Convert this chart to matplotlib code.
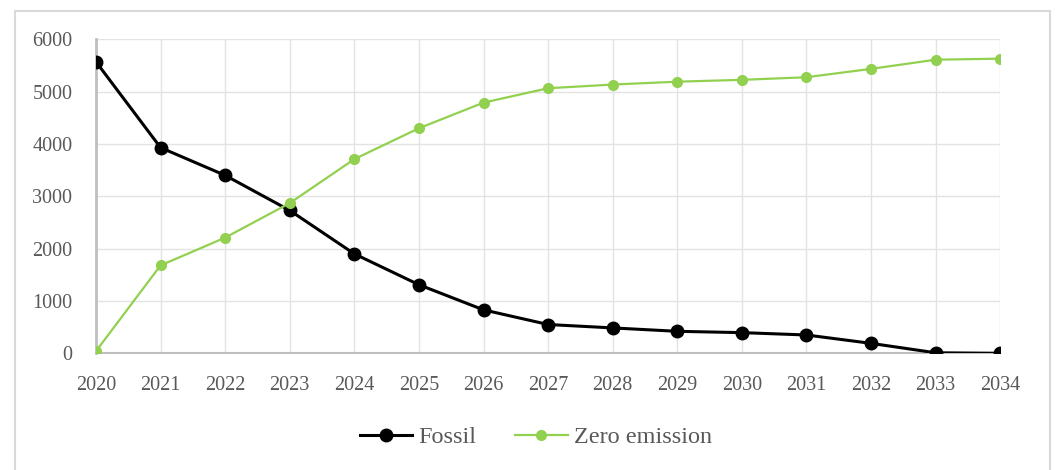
# Fossil vs zero emission line chart, Excel style
import matplotlib.pyplot as plt
import matplotlib.patches as patches

years = [2020, 2021, 2022, 2023, 2024, 2025, 2026, 2027, 2028, 2029, 2030, 2031, 2032, 2033, 2034]
fossil = [5570, 3930, 3400, 2730, 1900, 1310, 830, 550, 485, 420, 395, 350, 190, 10, 0]
zero_emission = [40, 1680, 2210, 2870, 3710, 4300, 4790, 5065, 5135, 5190, 5225, 5275, 5435, 5610, 5630]
yticks = [0, 1000, 2000, 3000, 4000, 5000, 6000]

plt.rcParams['font.family'] = ['Liberation Serif', 'DejaVu Serif']

fig = plt.figure(figsize=(10.57, 4.70), dpi=100)
ax = fig.add_axes([0.0908, 0.2483, 0.8555, 0.6681])

# Chart frame
fig.patches.append(patches.Rectangle((15/1057, -0.1), 1035/1057, 1.1 - 11/470,
                                     transform=fig.transFigure, fill=False,
                                     edgecolor='#d9d9d9', linewidth=1.5))

ax.plot(years, fossil, color='black', lw=2.2, marker='o', ms=9, label='Fossil', zorder=3)
ax.plot(years, zero_emission, color='#92D050', lw=1.6, marker='o', ms=7, label='Zero emission', zorder=4)

ax.set_xlim(2020, 2034)
ax.set_ylim(0, 6000)
ax.set_xticks(years)
ax.set_yticks(yticks)
ax.grid(True, color='#e3e3e3', linewidth=1)
ax.set_axisbelow(True)
for s in ['top', 'right']:
    ax.spines[s].set_visible(False)
ax.spines['left'].set_color('#bfbfbf')
ax.spines['left'].set_linewidth(2)
ax.spines['bottom'].set_color('#bfbfbf')
ax.spines['bottom'].set_linewidth(1.5)
ax.tick_params(length=0, labelsize=14.5, labelcolor='#595959')
ax.tick_params(axis='y', pad=17)
ax.tick_params(axis='x', pad=16)
for lab in ax.get_xticklabels() + ax.get_yticklabels():
    lab.set_clip_on(False)

leg = fig.legend(loc='center', bbox_to_anchor=(0.507, 0.07), ncol=2, frameon=False,
                 fontsize=17.5, handlelength=2.15, columnspacing=1.6, handletextpad=0.25)
for t in leg.get_texts():
    t.set_color('#595959')

fig.savefig('out.png', dpi=100)
